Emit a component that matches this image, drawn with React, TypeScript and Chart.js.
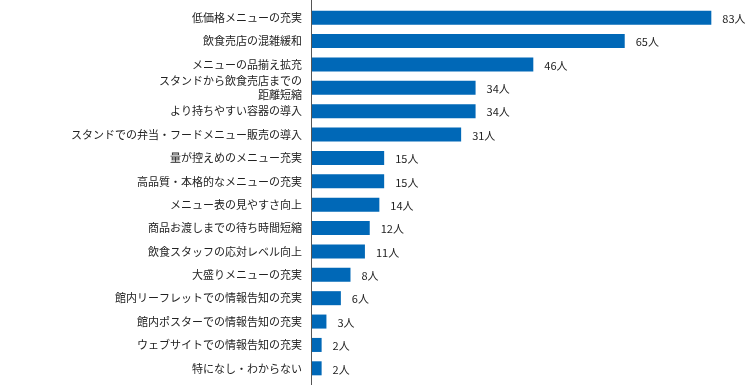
import React, { useEffect, useRef } from "react";
import { Chart, registerables } from "chart.js";

Chart.register(...registerables);

const categories: (string | string[])[] = [
  "低価格メニューの充実",
  "飲食売店の混雑緩和",
  "メニューの品揃え拡充",
  ["スタンドから飲食売店までの", "距離短縮"],
  "より持ちやすい容器の導入",
  "スタンドでの弁当・フードメニュー販売の導入",
  "量が控えめのメニュー充実",
  "高品質・本格的なメニューの充実",
  "メニュー表の見やすさ向上",
  "商品お渡しまでの待ち時間短縮",
  "飲食スタッフの応対レベル向上",
  "大盛りメニューの充実",
  "館内リーフレットでの情報告知の充実",
  "館内ポスターでの情報告知の充実",
  "ウェブサイトでの情報告知の充実",
  "特になし・わからない",
];
const values: number[] = [83, 65, 46, 34, 34, 31, 15, 15, 14, 12, 11, 8, 6, 3, 2, 2];
const unit = "人";

const FONT = "'Noto Sans CJK JP', 'Noto Sans', sans-serif";

export default function App() {
  const ref = useRef<HTMLCanvasElement>(null);
  useEffect(() => {
    if (!ref.current) return;
    const labelPlugin = {
      id: "valueLabels",
      afterDatasetsDraw(chart: any) {
        const ctx = chart.ctx;
        const meta = chart.getDatasetMeta(0);
        ctx.save();
        ctx.font = `11px ${FONT}`;
        ctx.fillStyle = "#222";
        ctx.textAlign = "left";
        ctx.textBaseline = "middle";
        meta.data.forEach((bar: any, i: number) => {
          ctx.fillText(values[i] + unit, bar.x + 11, bar.y + 1);
        });
        const x = Math.round(chart.chartArea.left) - 0.5;
        ctx.strokeStyle = "#555";
        ctx.lineWidth = 1;
        ctx.beginPath();
        ctx.moveTo(x, 0);
        ctx.lineTo(x, chart.height);
        ctx.stroke();
        ctx.restore();
      },
    };
    const chart = new Chart(ref.current, {
      type: "bar",
      data: {
        labels: categories,
        datasets: [
          {
            data: values,
            backgroundColor: "#0068b7",
            categoryPercentage: 1,
            barPercentage: 0.6,
          },
        ],
      },
      options: {
        indexAxis: "y",
        animation: false,
        responsive: false,
        layout: { padding: { top: 6, bottom: 5, left: 0, right: 0 } },
        plugins: { legend: { display: false }, tooltip: { enabled: false } },
        scales: {
          x: { display: false, min: 0, max: 90 },
          y: {
            grid: { display: false, drawTicks: false },
            border: { display: false },
            ticks: {
              color: "#222",
              font: { family: FONT, size: 11 },
              padding: 10,
              autoSkip: false,
            },
            afterFit(scale: any) {
              scale.width = 312;
              scale.paddingTop = 0;
              scale.paddingBottom = 0;
            },
          },
        },
      },
      plugins: [labelPlugin],
    });
    return () => chart.destroy();
  }, []);
  return (
    <div style={{ position: "fixed", left: 0, top: 0, width: 745, height: 385, background: "#fff" }}>
      <canvas ref={ref} width={745} height={385} style={{ width: 745, height: 385 }} />
    </div>
  );
}
